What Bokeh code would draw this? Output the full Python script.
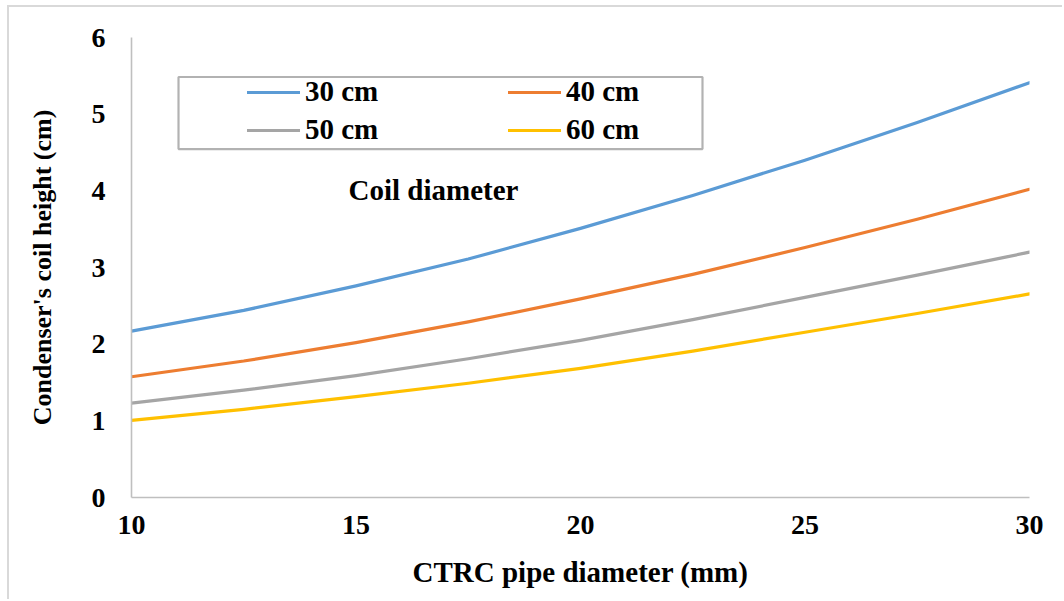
from bokeh.plotting import figure
from bokeh.models import Legend, LegendItem, BoxAnnotation, Label, FixedTicker, Range1d
from bokeh.embed import file_html
from bokeh.resources import INLINE

# ---- data ----
pipe_diameter = [10, 12.5, 15, 17.5, 20, 22.5, 25, 27.5, 30]
h_30cm = [2.17, 2.44, 2.76, 3.11, 3.51, 3.94, 4.40, 4.89, 5.41]
h_40cm = [1.575, 1.78, 2.02, 2.29, 2.59, 2.91, 3.26, 3.63, 4.02]
h_50cm = [1.23, 1.40, 1.59, 1.81, 2.05, 2.32, 2.61, 2.90, 3.20]
h_60cm = [1.007, 1.15, 1.315, 1.49, 1.685, 1.91, 2.155, 2.40, 2.655]
series_names = ["30 cm", "40 cm", "50 cm", "60 cm"]
series_colors = ["#5B9BD5", "#ED7D31", "#A5A5A5", "#FFC000"]
x_ticks = [10, 15, 20, 25, 30]
y_ticks = [0, 1, 2, 3, 4, 5, 6]

FONT = "Liberation Serif"

p = figure(width=1055, height=594, output_backend="svg", toolbar_location=None,
           x_range=Range1d(10, 30), y_range=Range1d(0, 6),
           min_border_left=122, min_border_right=35, min_border_top=30,
           min_border_bottom=104)
p.styles = {"margin-left": "7px", "margin-top": "5px",
            "border-left": "2px solid #d9d9d9", "border-top": "2px solid #d9d9d9"}
p.outline_line_color = None
p.grid.visible = False
p.background_fill_color = "white"
p.border_fill_color = "white"

renderers = []
for ys, c in zip([h_30cm, h_40cm, h_50cm, h_60cm], series_colors):
    r = p.line(pipe_diameter, ys, line_color=c, line_width=3.2, line_cap="round", line_join="round")
    renderers.append(r)

for ax in (p.xaxis[0], p.yaxis[0]):
    ax.axis_line_color = "#bfbfbf"
    ax.axis_line_width = 1.6
    ax.major_tick_line_color = None
    ax.minor_tick_line_color = None
    ax.major_tick_out = 0
    ax.major_tick_in = 0
    ax.major_label_text_font = FONT
    ax.major_label_text_font_style = "bold"
    ax.major_label_text_font_size = "28px"
    ax.major_label_text_color = "black"
    ax.axis_label_text_font = FONT
    ax.axis_label_text_font_style = "bold"
    ax.axis_label_text_color = "black"

p.xaxis[0].axis_label_text_font_size = "29px"
p.yaxis[0].axis_label_text_font_size = "26px"
p.xaxis[0].ticker = FixedTicker(ticks=x_ticks)
p.yaxis[0].ticker = FixedTicker(ticks=y_ticks)
p.xaxis[0].major_label_standoff = 18
p.yaxis[0].major_label_standoff = 26
p.xaxis[0].axis_label = "CTRC pipe diameter (mm)"
p.yaxis[0].axis_label = "Condenser's coil height (cm)"
p.xaxis[0].axis_label_standoff = 19
p.yaxis[0].axis_label_standoff = 32

# legend frame
box = BoxAnnotation(left=11.047, right=22.717, top=5.485, bottom=4.545,
                    fill_alpha=0, line_color="black", line_width=2.2)
p.add_layout(box)

# order so that rows read: 30 cm | 40 cm, then 50 cm | 60 cm
order = [0, 2, 1, 3]
legend = Legend(items=[LegendItem(label=series_names[i], renderers=[renderers[i]]) for i in order],
                ncols=2, location=(116, 351), padding=0, spacing=5, margin=0,
                glyph_width=53, glyph_height=30, label_height=30, label_width=198,
                label_standoff=5, border_line_color=None, background_fill_alpha=0,
                label_text_font=FONT, label_text_font_style="bold",
                label_text_font_size="29px", label_text_color="black")
p.add_layout(legend)

p.add_layout(Label(x=14.833, y=4.01, text="Coil diameter", text_font=FONT,
                   text_font_style="bold", text_font_size="29px", text_color="black",
                   text_baseline="middle"))

open("out.html", "w").write(file_html(p, INLINE))
